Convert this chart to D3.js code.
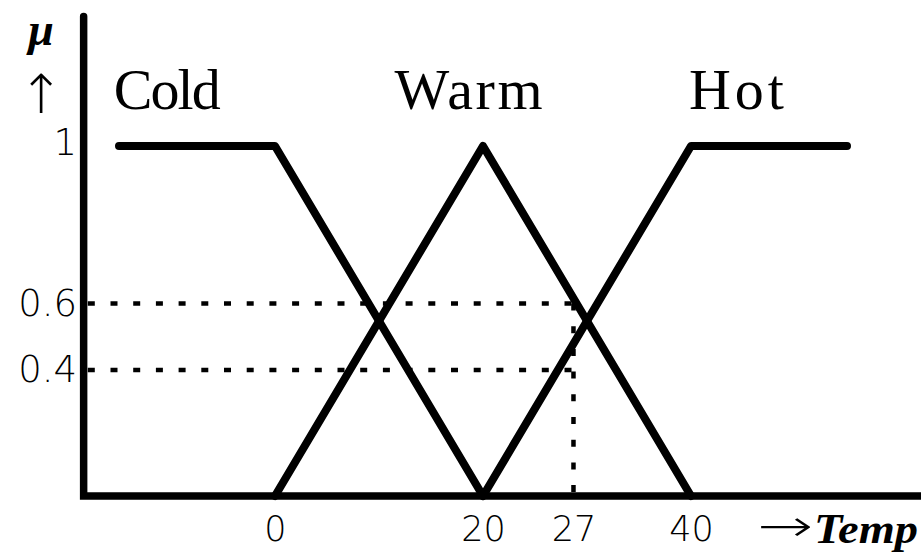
<!DOCTYPE html>
<html>
<head>
<meta charset="utf-8">
<script src="https://cdn.jsdelivr.net/npm/d3@7"></script>
<style>
  body { margin: 0; background: #fff; }
  svg { display: block; }
</style>
</head>
<body>
<svg id="chart"></svg>
<script>
// membership functions (Temp, mu)
const coldPoints = [[-15, 1], [0, 1], [20, 0]];
const warmPoints = [[0, 0], [20, 1], [40, 0]];
const hotPoints = [[20, 0], [40, 1], [55, 1]];

const setNames = ["Cold", "Warm", "Hot"];
const setLabelX = [-15.5, 11.5, 39.8]; // where each name starts, in Temp units

// tick labels, placed where the picture puts them
const xTickValues = [0, 20, 28.7, 40];
const xTickLabels = ["0", "20", "27", "40"];
const yTickValues = [1, 0.55, 0.36];
const yTickLabels = ["1", "0.6", "0.4"];

// dotted guide: temp 27 -> mu 0.6 / 0.4
const guideTemp = 28.7;
const guideLevels = [0.55, 0.36];

const width = 921, height = 554;
const svg = d3.select("#chart").attr("width", width).attr("height", height);

const x = d3.scaleLinear().domain([0, 40]).range([275, 691]);
const y = d3.scaleLinear().domain([0, 1]).range([496, 146]);

const line = d3.line().x(d => x(d[0])).y(d => y(d[1]));

// dotted guides (drawn first so the thick lines cover them)
const guides = svg.append("g")
    .attr("stroke", "#000")
    .attr("stroke-width", 4.5)
    .attr("stroke-dasharray", "7 15.7")
    .attr("fill", "none");

guideLevels.forEach(lv => {
    guides.append("path")
        .attr("d", line([[-18, lv], [guideTemp, lv]]));
});
guides.append("path")
    .attr("d", line([[guideTemp, guideLevels[0]], [guideTemp, 0]]));

// axes
const axes = svg.append("g")
    .attr("stroke", "#000")
    .attr("stroke-width", 7.5)
    .attr("fill", "none")
    .attr("stroke-linecap", "round");

axes.append("path").attr("d", line([[-18.4, 1.37], [-18.4, 0], [62.4, 0]]))
    .attr("stroke-linejoin", "miter");

// membership lines
const sets = svg.append("g")
    .attr("stroke", "#000")
    .attr("stroke-width", 8)
    .attr("fill", "none")
    .attr("stroke-linecap", "round")
    .attr("stroke-linejoin", "round");

[coldPoints, warmPoints, hotPoints].forEach(pts => {
    sets.append("path").attr("d", line(pts));
});

// set names
svg.append("g")
    .selectAll("text")
    .data(setNames)
    .join("text")
    .attr("x", (d, i) => x(setLabelX[i]))
    .attr("y", 109)
    .attr("font-family", "'Liberation Serif', 'Times New Roman', serif")
    .attr("font-size", 58)
    .attr("textLength", (d, i) => [107, 148, 95][i])
    .text(d => d);

// x tick labels
const xAxis = d3.axisBottom(x)
    .tickValues(xTickValues)
    .tickFormat((d, i) => xTickLabels[i])
    .tickSize(0)
    .tickPadding(0);

const gx = svg.append("g")
    .attr("transform", "translate(0, 516)")
    .call(xAxis);
gx.select(".domain").remove();
gx.selectAll("text")
    .attr("font-family", "'DejaVu Sans', sans-serif")
    .attr("font-weight", 300)
    .attr("font-size", 35)
    .attr("fill", "#000");

// y tick labels
const yAxis = d3.axisLeft(y)
    .tickValues(yTickValues)
    .tickFormat((d, i) => yTickLabels[i])
    .tickSize(0)
    .tickPadding(0);

const gy = svg.append("g")
    .attr("transform", "translate(77, 0)")
    .call(yAxis);
gy.select(".domain").remove();
gy.selectAll("text")
    .attr("font-family", "'DejaVu Sans', sans-serif")
    .attr("font-weight", 300)
    .attr("font-size", 37)
    .attr("fill", "#000");
gy.selectAll(".tick").filter((d, i) => i === 0).select("text")
    .attr("dy", "0.22em");

// axis titles
svg.append("text")
    .attr("x", 41)
    .attr("y", 45)
    .attr("text-anchor", "middle")
    .attr("font-family", "'Liberation Serif', serif")
    .attr("font-style", "italic")
    .attr("font-weight", "bold")
    .attr("font-size", 46)
    .text("μ");

svg.append("text")
    .attr("x", 41)
    .attr("y", 113)
    .attr("text-anchor", "middle")
    .attr("font-family", "'DejaVu Sans', sans-serif")
    .attr("font-weight", 300)
    .attr("font-size", 54)
    .text("↑");

svg.append("text")
    .attr("x", 757)
    .attr("y", 541)
    .attr("font-family", "'DejaVu Sans', sans-serif")
    .attr("font-weight", 300)
    .attr("font-size", 44)
    .attr("textLength", 56)
    .attr("lengthAdjust", "spacingAndGlyphs")
    .text("→");

svg.append("text")
    .attr("x", 814)
    .attr("y", 543)
    .attr("font-family", "'Liberation Serif', serif")
    .attr("font-style", "italic")
    .attr("font-weight", "bold")
    .attr("font-size", 43)
    .attr("textLength", 104)
    .attr("lengthAdjust", "spacingAndGlyphs")
    .text("Temp");
</script>
</body>
</html>
